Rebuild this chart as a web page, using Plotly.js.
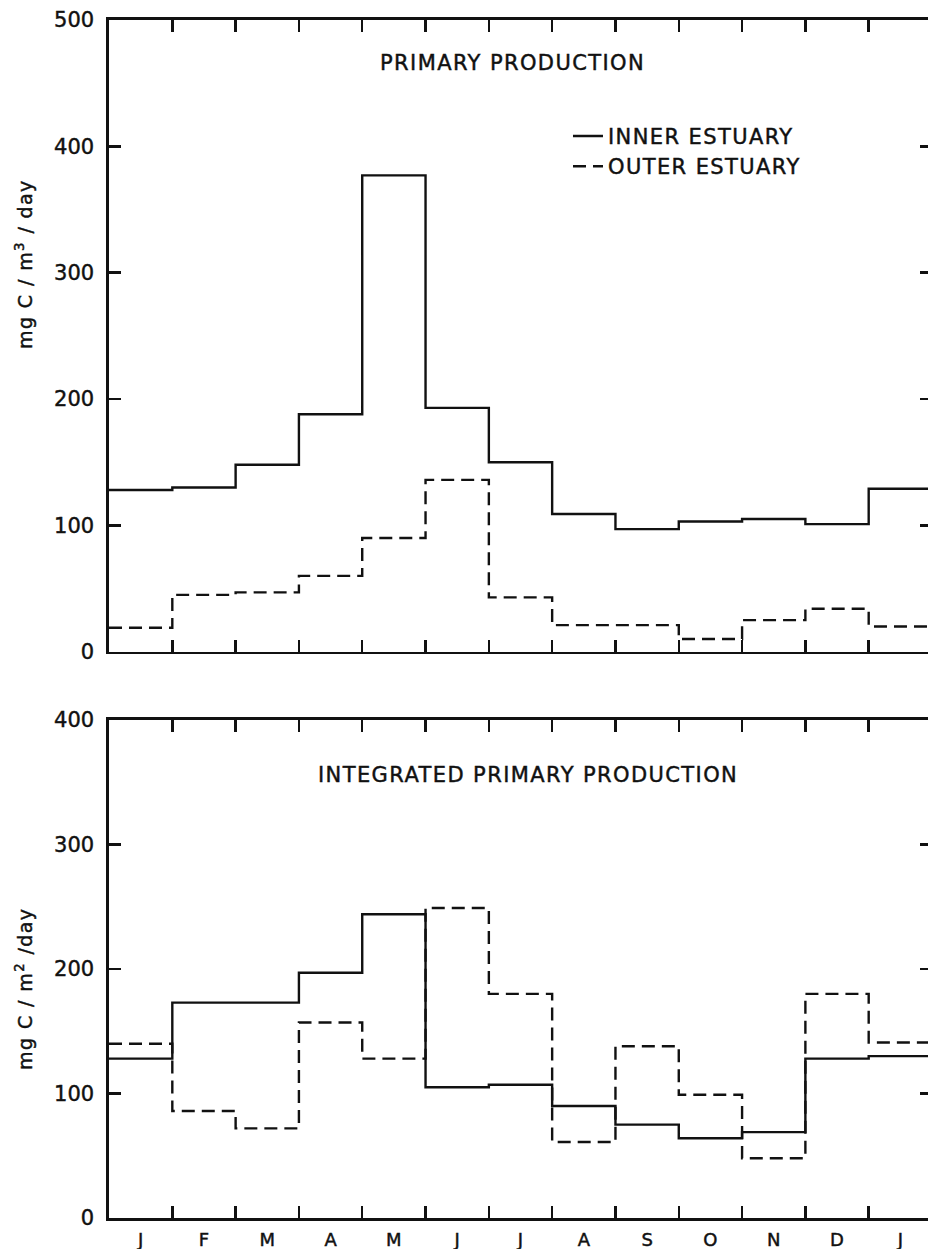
<!DOCTYPE html>
<html><head><meta charset="utf-8">
<script src="https://cdn.plot.ly/plotly-3.0.1.min.js"></script>
<style>
html,body{margin:0;padding:0;background:#fff;overflow:hidden;width:928px;height:1249px}
#chart{width:932px;height:1249px}
.annotation-text, .legendtext {letter-spacing:1.4px}
#chart text {stroke:#111; stroke-width:0.45px}
</style></head><body><div id="chart"></div>
<script>
// Month labels (Jan .. Jan)
const months = ['J','F','M','A','M','J','J','A','S','O','N','D','J'];
// Primary production, mg C / m3 / day
const innerVolumetric = [128,130,148,188,377,193,150,109,97,103,105,101,129];
const outerVolumetric = [19,45,47,60,90,136,43,21,21,10,25,34,20];
// Integrated primary production, mg C / m2 / day
const innerIntegrated = [128,173,173,197,244,105,107,90,75,64,69,128,130];
const outerIntegrated = [140,86,72,157,128,249,180,61,138,99,48,180,141];
// Axis ticks
const yTicksTop = [0,100,200,300,400,500];
const yTicksBottom = [0,100,200,300,400];

const stepX = months.map((_, i) => i).concat([months.length]);
const stepY = v => v.concat([v[v.length - 1]]);
const monthTicks = months.slice(1).map((_, i) => i + 1);
const monthCenters = months.map((_, i) => i + 0.5);

const ink = '#111';
const dash = '13px,7px';

const traces = [
  {x: stepX, y: stepY(innerVolumetric), xaxis:'x', yaxis:'y', mode:'lines', name:'INNER ESTUARY',
   line:{shape:'hv', color:ink, width:2.4}},
  {x: stepX, y: stepY(outerVolumetric), xaxis:'x', yaxis:'y', mode:'lines', name:'OUTER ESTUARY',
   line:{shape:'hv', color:ink, width:2.4, dash:dash}},
  {x: stepX, y: stepY(innerIntegrated), xaxis:'x2', yaxis:'y2', mode:'lines', showlegend:false,
   line:{shape:'hv', color:ink, width:2.4}},
  {x: stepX, y: stepY(outerIntegrated), xaxis:'x2', yaxis:'y2', mode:'lines', showlegend:false,
   line:{shape:'hv', color:ink, width:2.4, dash:dash}},
  {x: [], y: [], xaxis:'x3', yaxis:'y2', mode:'lines', showlegend:false, hoverinfo:'skip'}
];

const xBase = {range:[0, months.length], tickvals: monthTicks, ticks:'inside', ticklen:12, tickwidth:2.4,
  tickcolor:ink, showticklabels:false, showline:true, linewidth:2.6, linecolor:ink, mirror:'ticks',
  showgrid:false, zeroline:false, fixedrange:true};
const yBase = {ticks:'inside', ticklen:12, tickwidth:2.4, tickcolor:ink, showline:true, linewidth:2.6,
  linecolor:ink, mirror:'ticks', showgrid:false, zeroline:false, tickfont:{size:21, color:ink},
  ticklabelstandoff:8, fixedrange:true};

const layout = {
  width:932, height:1249,
  margin:{l:109, r:0, t:20, b:31},
  paper_bgcolor:'#fff', plot_bgcolor:'#fff',
  font:{family:'DejaVu Sans, sans-serif', color:ink},
  showlegend:true,
  legend:{x:0.5577, y:0.920, xanchor:'left', yanchor:'top', font:{size:21, color:ink},
    bgcolor:'rgba(0,0,0,0)', tracegroupgap:0},
  xaxis: Object.assign({}, xBase, {anchor:'y'}),
  yaxis: Object.assign({}, yBase, {domain:[0.4727, 1], range:[0,500], tickvals:yTicksTop, anchor:'x'}),
  xaxis2: Object.assign({}, xBase, {anchor:'y2'}),
  yaxis2: Object.assign({}, yBase, {domain:[0, 0.4157], range:[0,400], tickvals:yTicksBottom, anchor:'x2'}),
  xaxis3: {overlaying:'x2', anchor:'y2', range:[0, months.length], tickvals: monthCenters, ticktext: months,
    ticks:'', showline:false, showgrid:false, zeroline:false, tickfont:{size:18, color:ink},
    ticklabelstandoff:9, fixedrange:true},
  annotations:[
    {text:'PRIMARY PRODUCTION', xref:'paper', yref:'paper', x:0.49, y:0.964, showarrow:false,
     xanchor:'center', yanchor:'middle', font:{size:21, color:ink}},
    {text:'INTEGRATED PRIMARY PRODUCTION', xref:'paper', yref:'paper', x:0.509, y:0.3698, showarrow:false,
     xanchor:'center', yanchor:'middle', font:{size:21, color:ink}},
    {text:'mg C / m<sup>3</sup> / day', xref:'paper', yref:'paper', x:-0.1033, y:0.7963, showarrow:false,
     textangle:-90, xanchor:'center', yanchor:'middle', font:{size:19, color:ink}},
    {text:'mg C / m<sup>2</sup> /day', xref:'paper', yref:'paper', x:-0.1033, y:0.1912, showarrow:false,
     textangle:-90, xanchor:'center', yanchor:'middle', font:{size:19, color:ink}}
  ]
};

Plotly.newPlot('chart', traces, layout, {staticPlot:true, displayModeBar:false});
</script></body></html>
